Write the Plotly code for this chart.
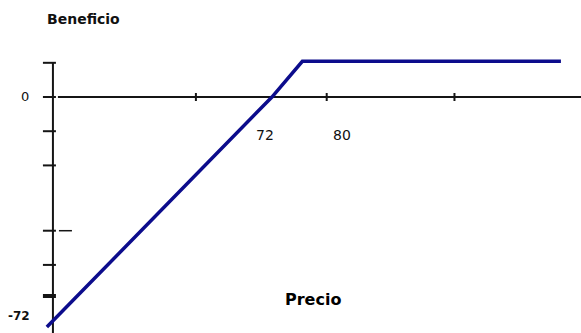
import plotly.graph_objects as go

# Payoff of the position: price on the horizontal axis, profit on the vertical one
price = [-2, 72, 82, 167]
profit = [-74, 0, 11.5, 11.5]

# Unlabelled tick marks on each axis
x_ticks = [47, 90, 132]
y_ticks = [11, 0, -11, -22, -43, -54, -64]

# Labelled values
x_label_vals = [72, 80]
x_label_text = ["72", "80"]
y_label_vals = [0, -72]
y_label_text = ["0", "-72"]

X_RANGE = [-17.4, 173.6]
Y_RANGE = [-75.9, 31.2]

AXIS_COLOR = "#151515"
LINE_COLOR = "#0c0c8c"
FONT = "DejaVu Sans"

fig = go.Figure()
fig.add_trace(go.Scatter(
    x=price, y=profit, mode="lines",
    line=dict(color=LINE_COLOR, width=3.5),
    hoverinfo="skip", showlegend=False,
))

shapes = []
# vertical axis at price 0, from the top tick down past the bottom edge
shapes.append(dict(type="line", xref="x", yref="y", x0=0, x1=0,
                   y0=y_ticks[0], y1=Y_RANGE[0] - 5,
                   line=dict(color=AXIS_COLOR, width=2), layer="below"))
# horizontal axis at profit 0, starting just right of the vertical axis
shapes.append(dict(type="line", xref="x", yref="y", xsizemode="pixel", xanchor=0,
                   x0=5, x1=620, y0=0, y1=0,
                   line=dict(color=AXIS_COLOR, width=2), layer="below"))
# tick marks on the vertical axis
for v in y_ticks:
    shapes.append(dict(type="line", xref="x", yref="y", xsizemode="pixel", xanchor=0,
                       x0=-10, x1=3, y0=v, y1=v,
                       line=dict(color=AXIS_COLOR, width=4 if v == y_ticks[-1] else 2),
                       layer="below"))
# short dash to the right of the -43 tick
shapes.append(dict(type="line", xref="x", yref="y", xsizemode="pixel", xanchor=0,
                   x0=6, x1=19, y0=y_ticks[4], y1=y_ticks[4],
                   line=dict(color=AXIS_COLOR, width=1.5), layer="below"))
# tick marks on the horizontal axis
for p in x_ticks:
    shapes.append(dict(type="line", xref="x", yref="y", ysizemode="pixel", yanchor=0,
                       x0=p, x1=p, y0=-4, y1=4,
                       line=dict(color=AXIS_COLOR, width=2), layer="below"))

annotations = []
# labels below the horizontal axis
x_shifts = [-7, 46]
for v, t, s in zip(x_label_vals, x_label_text, x_shifts):
    annotations.append(dict(x=v, y=0, xref="x", yref="y", text=t, showarrow=False,
                            xanchor="center", yanchor="middle", xshift=s, yshift=-38,
                            font=dict(family=FONT, size=14, color="#111")))
# labels left of the vertical axis
y_shifts = [1, 5]
y_bold = [False, True]
x_off = [-28, -34]
for v, t, s, b, xo in zip(y_label_vals, y_label_text, y_shifts, y_bold, x_off):
    annotations.append(dict(x=0, y=v, xref="x", yref="y",
                            text=f"<b>{t}</b>" if b else t, showarrow=False,
                            xanchor="center", yanchor="middle", xshift=xo, yshift=s,
                            font=dict(family=FONT, size=12 if b else 13, color="#111")))
# axis titles
annotations.append(dict(x=45 / 581, y=1 - 19 / 333, xref="paper", yref="paper",
                        text="<b>Beneficio</b>", showarrow=False,
                        xanchor="left", yanchor="middle",
                        font=dict(family=FONT, size=14, color="#111")))
annotations.append(dict(x=313 / 581, y=1 - 299 / 333, xref="paper", yref="paper",
                        text="<b>Precio</b>", showarrow=False,
                        xanchor="center", yanchor="middle",
                        font=dict(family=FONT, size=16, color="#000")))

fig.update_layout(
    width=581, height=333, autosize=False,
    margin=dict(l=0, r=0, t=0, b=0),
    paper_bgcolor="white", plot_bgcolor="white",
    xaxis=dict(range=X_RANGE, visible=False, fixedrange=True),
    yaxis=dict(range=Y_RANGE, visible=False, fixedrange=True),
    shapes=shapes, annotations=annotations,
    showlegend=False,
)

fig.write_html("out.html", config={"displayModeBar": False})
